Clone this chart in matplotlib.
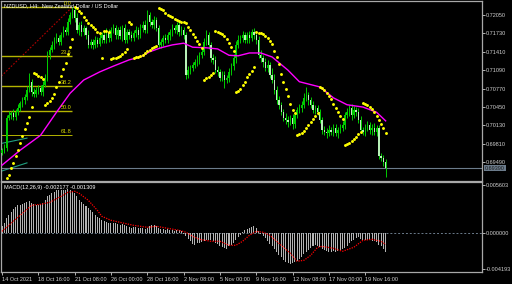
import numpy as np
import matplotlib
matplotlib.use("Agg")
import matplotlib.pyplot as plt
import matplotlib.transforms as mtransforms

plt.rcParams['font.family'] = "Liberation Sans"

# NZDUSD H4, 14 Oct 2021 - 22 Nov 2021
first_open = 0.6965
closes = [0.6970, 0.6974, 0.7026, 0.7031, 0.7035, 0.7028, 0.7036, 0.7043, 0.7052, 0.7057,
          0.7062, 0.7075, 0.7089, 0.7071, 0.7068, 0.7075, 0.7078, 0.7071, 0.7083, 0.7096,
          0.7135, 0.7144, 0.7153, 0.7162, 0.7165, 0.7158, 0.7170, 0.7179, 0.7176, 0.7193,
          0.7205, 0.7214, 0.7200, 0.7179, 0.7188, 0.7175, 0.7182, 0.7170, 0.7153, 0.7158,
          0.7153, 0.7162, 0.7155, 0.7165, 0.7170, 0.7162, 0.7175, 0.7165, 0.7179, 0.7182,
          0.7170, 0.7179, 0.7168, 0.7182, 0.7162, 0.7175, 0.7170, 0.7165, 0.7174, 0.7179,
          0.7170, 0.7182, 0.7188, 0.7179, 0.7205, 0.7193, 0.7188, 0.7196, 0.7182, 0.7153,
          0.7158, 0.7165, 0.7162, 0.7170, 0.7175, 0.7182, 0.7179, 0.7188, 0.7175, 0.7179,
          0.7170, 0.7101, 0.7109, 0.7113, 0.7118, 0.7123, 0.7127, 0.7135, 0.7141, 0.7158,
          0.7170, 0.7153, 0.7130, 0.7127, 0.7109, 0.7106, 0.7096, 0.7101, 0.7092, 0.7096,
          0.7106, 0.7116, 0.7130, 0.7153, 0.7162, 0.7165, 0.7170, 0.7162, 0.7170, 0.7165,
          0.7175, 0.7170, 0.7162, 0.7136, 0.7130, 0.7123, 0.7113, 0.7118, 0.7101, 0.7092,
          0.7075, 0.7057, 0.7049, 0.7036, 0.7026, 0.7023, 0.7019, 0.7026, 0.7016, 0.7031,
          0.7040, 0.7043, 0.7049, 0.7061, 0.7066, 0.7057, 0.7049, 0.7040, 0.7043, 0.7036,
          0.7023, 0.7005, 0.7002, 0.7000, 0.7005, 0.7002, 0.7009, 0.7000, 0.7005, 0.7009,
          0.7014, 0.7031, 0.7036, 0.7043, 0.7031, 0.7040, 0.7036, 0.7023, 0.7005, 0.7002,
          0.7009, 0.7014, 0.7005, 0.7009, 0.7002, 0.7009, 0.6960, 0.6956, 0.6950, 0.6939]

# wick lengths in pips
wick_up = [4, 6, 5, 8, 4, 6, 5, 7, 4, 6,
           5, 6, 15, 5, 7, 4, 6, 5, 8, 6,
           7, 5, 6, 4, 8, 5, 6, 7, 5, 6,
           5, 5, 6, 8, 5, 7, 6, 4, 9, 5,
           6, 7, 5, 8, 6, 5, 7, 6, 5, 8,
           6, 5, 7, 6, 8, 5, 6, 7, 5, 6,
           5, 7, 6, 8, 9, 6, 5, 7, 6, 5,
           6, 5, 7, 6, 5, 8, 6, 5, 7, 6,
           5, 6, 7, 5, 6, 5, 8, 6, 5, 7,
           9, 6, 5, 7, 6, 8, 5, 6, 7, 5,
           6, 5, 7, 6, 8, 5, 7, 6, 5, 8,
           6, 7, 5, 6, 8, 5, 7, 9, 6, 12,
           10, 6, 7, 5, 6, 8, 6, 5, 7, 6,
           5, 7, 6, 8, 14, 6, 5, 7, 6, 5,
           6, 5, 7, 6, 8, 5, 6, 7, 5, 6,
           7, 6, 8, 5, 7, 6, 5, 7, 6, 5,
           6, 7, 5, 6, 8, 5, 4, 5, 6, 4]
wick_dn = [4, 5, 6, 4, 7, 5, 6, 4, 5, 7,
           6, 5, 4, 7, 5, 6, 8, 5, 6, 4,
           5, 6, 4, 7, 5, 6, 5, 4, 6, 5,
           4, 6, 7, 5, 8, 6, 5, 7, 6, 5,
           7, 5, 6, 4, 8, 6, 5, 7, 6, 5,
           6, 7, 5, 8, 6, 5, 7, 6, 5, 7,
           6, 5, 7, 6, 5, 8, 6, 7, 5, 6,
           5, 7, 6, 5, 8, 6, 5, 7, 6, 5,
           6, 8, 5, 7, 6, 5, 6, 7, 5, 6,
           5, 7, 6, 8, 5, 7, 6, 5, 14, 6,
           7, 5, 6, 8, 5, 6, 7, 5, 6, 8,
           5, 6, 7, 5, 6, 8, 5, 7, 6, 5,
           7, 6, 8, 5, 6, 7, 8, 6, 10, 7,
           5, 6, 7, 5, 6, 8, 5, 6, 7, 5,
           6, 7, 5, 8, 6, 5, 7, 6, 8, 5,
           6, 7, 5, 6, 8, 5, 7, 6, 5, 6,
           7, 5, 6, 8, 5, 7, 6, 5, 8, 16]

# moving average (magenta)
ma_bars = [0, 8, 17, 24, 30, 36, 43, 49, 56, 61, 65, 70, 75, 80, 84,
           90, 95, 100, 104, 109, 114, 119, 126, 131, 140, 146, 152, 159, 165, 169]
ma_vals = [0.6944, 0.6970, 0.6996, 0.7036, 0.7069, 0.7092, 0.7106, 0.7116, 0.7127, 0.7132,
           0.7141, 0.7148, 0.7153, 0.7156, 0.7149, 0.7148, 0.7146, 0.7135, 0.7134, 0.7139,
           0.7139, 0.7132, 0.7109, 0.7089, 0.7080, 0.7061, 0.7049, 0.7045, 0.7036, 0.7021]

# parabolic SAR, one value per bar
sar = [None, None,
       0.6922, 0.6927, 0.6939, 0.6948, 0.6960, 0.6970, 0.6982, 0.6995, 0.7007, 0.7017, 0.7028, 0.7045,
       0.7104, 0.7102, 0.7099, 0.7097, 0.7094,
       0.7049, 0.7052, 0.7056, 0.7061, 0.7068, 0.7080, 0.7089, 0.7099, 0.7111, 0.7122, 0.7137, 0.7149, 0.7163,
       0.7219, 0.7217, 0.7212, 0.7208, 0.7202, 0.7196, 0.7191, 0.7188, 0.7184, 0.7181, 0.7175, 0.7174,
       0.7130,
       0.7177, 0.7177, 0.7175,
       0.7129, 0.7130, 0.7130, 0.7132, 0.7134, 0.7137, 0.7141, 0.7146,
       0.7193, 0.7189,
       0.7130, 0.7132, 0.7132, 0.7134, 0.7135, 0.7139, 0.7142, 0.7144, 0.7148, 0.7149, 0.7151,
       0.7217, 0.7215, 0.7214, 0.7208, 0.7205, 0.7203, 0.7202, 0.7198, 0.7196, 0.7195,
       0.7193, 0.7193, 0.7191, 0.7184, 0.7179, 0.7172, 0.7167, 0.7160, 0.7155, 0.7148,
       0.7092, 0.7096, 0.7097, 0.7101, 0.7104,
       0.7177, 0.7175, 0.7174, 0.7172, 0.7168, 0.7163, 0.7156, 0.7149, 0.7142,
       0.7071, 0.7073, 0.7076, 0.7083, 0.7089, 0.7097, 0.7102, 0.7108, 0.7115,
       0.7175, 0.7174, 0.7174, 0.7172, 0.7168, 0.7165, 0.7160, 0.7155, 0.7142,
       0.7132, 0.7120, 0.7102, 0.7089, 0.7076, 0.7064, 0.7050, 0.7040, 0.7035,
       0.6996, 0.6998, 0.7000, 0.7003, 0.7009, 0.7014, 0.7019, 0.7024, 0.7029, 0.7035,
       0.7080, 0.7078, 0.7075, 0.7069, 0.7064, 0.7059, 0.7050, 0.7043, 0.7036, 0.7029, 0.7024,
       0.6979, 0.6981, 0.6982, 0.6986, 0.6989, 0.6993, 0.6998, 0.7002,
       0.7052, 0.7050, 0.7049, 0.7045, 0.7042, 0.7036, 0.7029, 0.7023, 0.7016, 0.7009, 0.7000]

# MACD(12,26,9) main line (histogram) and signal
macd = [0.00082, 0.00117, 0.00175, 0.00210, 0.00245, 0.00280, 0.00303, 0.00326, 0.00326, 0.00338,
        0.00350, 0.00361, 0.00373, 0.00350, 0.00338, 0.00326, 0.00326, 0.00338, 0.00350, 0.00385,
        0.00431, 0.00443, 0.00466, 0.00478, 0.00501, 0.00501, 0.00501, 0.00501, 0.00501, 0.00513,
        0.00501, 0.00490, 0.00466, 0.00431, 0.00385, 0.00361, 0.00338, 0.00315, 0.00292, 0.00268,
        0.00245, 0.00210, 0.00187, 0.00175, 0.00152, 0.00140, 0.00128, 0.00117, 0.00117, 0.00117,
        0.00117, 0.00105, 0.00093, 0.00105, 0.00093, 0.00082, 0.00070, 0.00058, 0.00070, 0.00070,
        0.00058, 0.00058, 0.00058, 0.00047, 0.00058, 0.00082, 0.00093, 0.00093, 0.00082, 0.00058,
        0.00047, 0.00047, 0.00035, 0.00047, 0.00035, 0.00035, 0.00023, 0.00035, 0.00035, 0.00023,
        -0.00012, -0.00035, -0.00070, -0.00093, -0.00128, -0.00140, -0.00117, -0.00117, -0.00105, -0.00093,
        -0.00082, -0.00082, -0.00082, -0.00093, -0.00117, -0.00128, -0.00152, -0.00163, -0.00175, -0.00187,
        -0.00152, -0.00140, -0.00117, -0.00082, -0.00047, -0.00023, 0.00012, 0.00035, 0.00047, 0.00058,
        0.00070, 0.00082, 0.00058, 0.00023, -0.00012, -0.00035, -0.00058, -0.00093, -0.00128, -0.00152,
        -0.00187, -0.00222, -0.00257, -0.00280, -0.00315, -0.00338, -0.00350, -0.00361, -0.00350, -0.00338,
        -0.00326, -0.00303, -0.00280, -0.00245, -0.00222, -0.00198, -0.00175, -0.00152, -0.00140, -0.00152,
        -0.00163, -0.00187, -0.00198, -0.00210, -0.00222, -0.00222, -0.00210, -0.00222, -0.00210, -0.00198,
        -0.00187, -0.00175, -0.00152, -0.00117, -0.00093, -0.00082, -0.00058, -0.00047, -0.00070, -0.00082,
        -0.00082, -0.00082, -0.00082, -0.00093, -0.00093, -0.00105, -0.00140, -0.00152, -0.00187, -0.002177]
signal_bars = [0, 5, 9, 13, 17, 21, 26, 29, 32, 34, 38, 42, 44, 48, 52, 58, 64, 68, 73, 78, 81, 84, 87,
               92, 96, 100, 103, 106, 109, 112, 115, 118, 122, 127, 130, 133, 136, 139, 141, 146, 150,
               155, 159, 163, 167, 169]
signal_vals = [0.00023, 0.00140, 0.00233, 0.00326, 0.00338, 0.00361, 0.00431, 0.00478, 0.00490, 0.00466,
               0.00385, 0.00268, 0.00198, 0.00152, 0.00128, 0.00093, 0.00070, 0.00082, 0.00058, 0.00035,
               0.00012, -0.00035, -0.00070, -0.00093, -0.00093, -0.00140, -0.00140, -0.00093, -0.00023,
               0.00023, 0.00012, -0.00023, -0.00117, -0.00233, -0.00326, -0.00315, -0.00257, -0.00163,
               -0.00152, -0.00175, -0.00210, -0.00163, -0.00082, -0.00070, -0.00093, -0.001309]

# Fibonacci retracement and two short channel lines
fib_levels = [0.0, 23.6, 38.2, 50.0, 61.8]
fib_high, fib_low = 0.7219, 0.6858
fib_high_bar, fib_low_bar = 31, -63
channel_bars = [0, 11]
channel_a = [0.6982, 0.6991]
channel_b = [0.6934, 0.6948]

price_ticks = [0.72050, 0.71730, 0.71410, 0.71090, 0.70770, 0.70450, 0.70130, 0.69810, 0.69490]
macd_ticks = [0.005603, 0.0, -0.004193]
date_bars = [0, 16, 32, 48, 64, 80, 96, 112, 128, 144, 160]
date_labels = ["14 Oct 2021", "18 Oct 16:00", "21 Oct 08:00", "26 Oct 00:00", "28 Oct 16:00",
               "2 Nov 08:00", "5 Nov 00:00", "9 Nov 16:00", "12 Nov 08:00", "17 Nov 00:00",
               "19 Nov 16:00"]

GREEN = "#00cc00"
PALE = "#b8f0b8"
FRAME = "#a8a8a8"
TXT = "#d0d0d0"
BIDCOL = "#6b7b8b"

c = np.array(closes)
o = np.concatenate([[first_open], c[:-1]])
hi = np.maximum(o, c) + np.array(wick_up) * 1e-4
lo = np.minimum(o, c) - np.array(wick_dn) * 1e-4
idx = np.arange(len(c))
up = c >= o

fig = plt.figure(figsize=(5.12, 2.84), dpi=100, facecolor="black")
ax = fig.add_axes([1 / 512, 103 / 284, 481 / 512, 180 / 284], facecolor="black")
ax2 = fig.add_axes([1 / 512, 12 / 284, 481 / 512, 90 / 284], facecolor="black", sharex=ax)

# candles
ax.vlines(idx, lo, hi, color=GREEN, lw=0.7, zorder=2)
ax.bar(idx[up], (c - o)[up], bottom=o[up], width=0.6, color=GREEN, zorder=3)
ax.bar(idx[~up], (o - c)[~up], bottom=c[~up], width=0.6, color=PALE, zorder=3)

ax.plot(ma_bars, ma_vals, color="#ff00ff", lw=1.0, zorder=4)
sar_x = [i for i, v in enumerate(sar) if v is not None]
sar_y = [v for v in sar if v is not None]
ax.plot(sar_x, sar_y, "o", color="#ffff00", ms=2.1, mew=0, zorder=5)

# fibo
ax.plot([fib_low_bar, fib_high_bar], [fib_low, fib_high], color="#b00000", lw=0.8, ls=(0, (1.5, 1.5)), zorder=1)
for lvl in fib_levels:
    p = fib_high - (fib_high - fib_low) * lvl / 100.0
    ax.hlines(p, fib_low_bar, fib_high_bar, color="#b4b400", lw=1.0 if lvl != 61.8 else 0.7, zorder=1)
    ax.text(fib_high_bar - 0.5, p + 0.0002, "%.1f" % lvl, color="#d8d800", fontsize=4,
            ha="right", va="bottom", zorder=6)
ax.plot(channel_bars, channel_a, color="#20a080", lw=0.8, zorder=1)
ax.plot(channel_bars, channel_b, color="#20a080", lw=0.8, zorder=1)

# bid line and label
ax.axhline(c[-1], color=BIDCOL, lw=0.8, zorder=1)
tr = mtransforms.blended_transform_factory(ax.transAxes, ax.transData)
ax.text(1.006, c[-1], "%.5f" % c[-1], transform=tr, fontsize=4, color="#1a1a1a", ha="left", va="center",
        bbox=dict(boxstyle="square,pad=0.15", fc=BIDCOL, ec="none"), clip_on=False)

ax.text(0.006, 0.985, "NZDUSD, H4:  New Zealand Dollar / US Dollar", transform=ax.transAxes,
        color="white", fontsize=4, ha="left", va="top", zorder=7)

ax.set_xlim(-0.44, 211.45)
ax.set_ylim(0.69165, 0.72293)
ax.yaxis.tick_right()
ax.set_yticks(price_ticks)
ax.set_yticklabels(["%.5f" % t for t in price_ticks])
ax.tick_params(axis="y", labelsize=4, colors=TXT, length=2, width=0.6, pad=1)
ax.tick_params(axis="x", bottom=False, labelbottom=False)

# MACD panel
ax2.axhline(0, color=BIDCOL, lw=0.7, ls=(0, (2, 2)), zorder=0)
ax2.bar(idx, macd, width=0.45, color="#b4b4b4", zorder=2)
ax2.plot(signal_bars, signal_vals, color="#ff0000", lw=0.9, ls=(0, (1, 1)), zorder=3)
ax2.text(0.006, 0.97, "MACD(12,26,9) %.6f %.6f" % (macd[-1], signal_vals[-1]), transform=ax2.transAxes,
         color="white", fontsize=4, ha="left", va="top")
ax2.set_ylim(-0.004512, 0.005982)
ax2.yaxis.tick_right()
ax2.set_yticks(macd_ticks)
ax2.set_yticklabels(["%.6f" % t for t in macd_ticks])
ax2.tick_params(axis="y", labelsize=4, colors=TXT, length=2, width=0.6, pad=1)
ax2.set_xticks(date_bars)
ax2.set_xticklabels(date_labels)
ax2.tick_params(axis="x", labelsize=4, colors=TXT, length=2.5, width=0.6, pad=1)
for lab in ax2.get_xticklabels():
    lab.set_ha("left")

for a in (ax, ax2):
    for s in a.spines.values():
        s.set_color(FRAME)
        s.set_linewidth(0.9)

plt.savefig("out.png", dpi=100, facecolor="black")
